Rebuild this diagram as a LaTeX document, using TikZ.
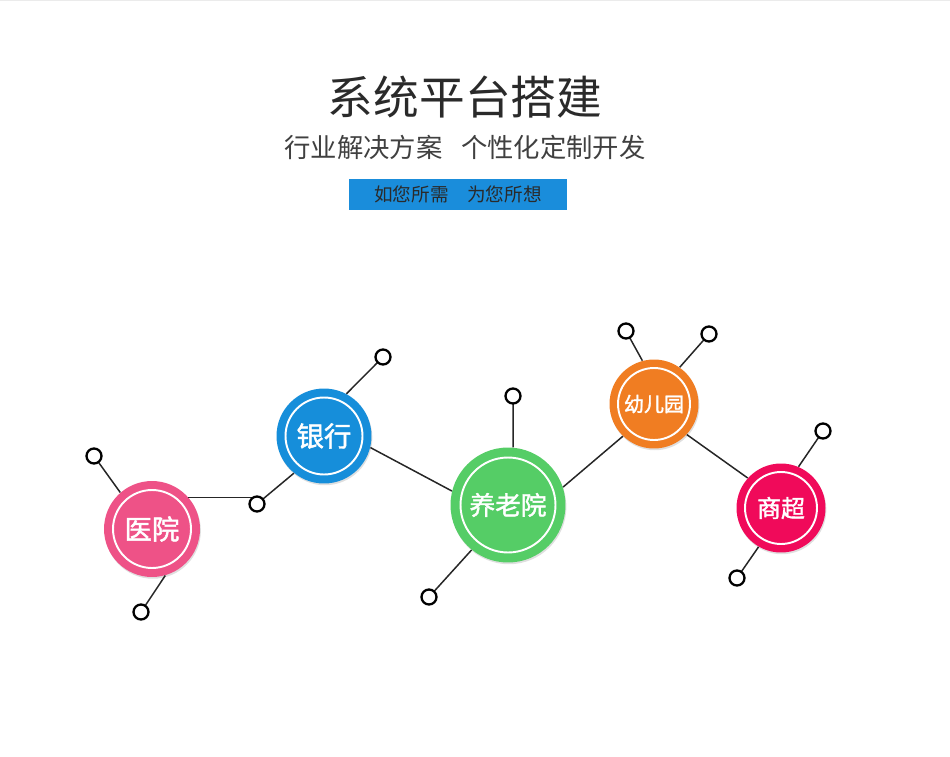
\documentclass[tikz,border=0pt]{standalone}
\usepackage{fontspec}
\setmainfont{Noto Sans CJK SC}
\newfontfamily\cjkmid[FakeBold=1.6]{Noto Sans CJK SC}
\usepackage{xcolor}
\definecolor{cPink}  {HTML}{EE5287}
\definecolor{cBlue}  {HTML}{168EDA}
\definecolor{cGreen} {HTML}{55CD66}
\definecolor{cOrange}{HTML}{F07D22}
\definecolor{cRed}   {HTML}{F00A5A}
\definecolor{cBanner}{HTML}{1A8DDB}
\definecolor{cInk}   {HTML}{2A2A2A}
\usetikzlibrary{positioning, shadows}
\tikzset{
  hub/.style  = {circle, fill=#1, draw=none, inner sep=0pt,
                 text=white,
                 drop shadow={opacity=0.25, shadow xshift=0.5pt,
                              shadow yshift=-1pt}},
  ring/.style = {circle, draw=white, line width=1.1pt, fill=none,
                 inner sep=0pt},
  pin/.style  = {circle, draw=black, line width=1.3pt, fill=white,
                 minimum size=0.3cm, inner sep=0pt},
  link/.style = {draw=black!85, line width=0.85pt},
}

\begin{document}
\begin{tikzpicture}[x=0.02cm, y=-0.02cm]
  \useasboundingbox (0,0) rectangle (950,757);
  \fill[black!8] (0,0) rectangle (950,1.5);

  %% Heading
  \node[font=\fontsize{26}{26}\selectfont, text=cInk] (title) at (465,97)
        {系统平台搭建};
  \node[font=\fontsize{15}{15}\selectfont, text=black!75,
        below=0.1cm of title] (sub)
        {行业解决方案\hspace{0.7em}个性化定制开发};
  \node[fill=cBanner, text=cInk, minimum width=4.36cm, minimum height=0.62cm,
        font=\fontsize{10.6}{11}\selectfont, inner sep=0pt] (tag) at (458,194.5)
        {如您所需\hspace{1em}为您所想};

  %% Hubs
  \node[hub=cPink,   minimum size=1.92cm, font=\cjkmid\fontsize{15.6}{16}\selectfont] (hosp)  at (152,529) {医院};
  \node[hub=cBlue,   minimum size=1.90cm, font=\cjkmid\fontsize{15.6}{16}\selectfont] (bank)  at (324,436) {银行};
  \node[hub=cGreen,  minimum size=2.30cm, font=\cjkmid\fontsize{14.6}{15}\selectfont] (elder) at (508,505) {养老院};
  \node[hub=cOrange, minimum size=1.78cm, font=\cjkmid\fontsize{11.4}{12}\selectfont] (kids)  at (654,404) {幼儿园};
  \node[hub=cRed,    minimum size=1.78cm, font=\cjkmid\fontsize{13.6}{14}\selectfont] (shop)  at (781,508) {商超};

  %% White rings
  \node[ring, minimum size=1.56cm] at (hosp)  {};
  \node[ring, minimum size=1.54cm] at (bank)  {};
  \node[ring, minimum size=1.90cm] at (elder) {};
  \node[ring, minimum size=1.44cm] at (kids)  {};
  \node[ring, minimum size=1.44cm] at (shop)  {};

  %% Pin positions
  \coordinate (p1)  at (94,456);
  \coordinate (p2)  at (141,612);
  \coordinate (p3)  at (257,504);
  \coordinate (p4)  at (383,357);
  \coordinate (p5)  at (513,396);
  \coordinate (p6)  at (429,597);
  \coordinate (p7)  at (626,331);
  \coordinate (p8)  at (709,334);
  \coordinate (p9)  at (823,431);
  \coordinate (p10) at (737,578);

  %% Links
  \draw[link] (hosp.131) -- (p1);
  \draw[link] (hosp.-74) -- (p2);
  \draw[link] (hosp.41.6) -- (hosp.41.6 -| p3);
  \draw[link] (p3) -- (bank.231);
  \draw[link] (bank.62) -- (p4);
  \draw[link] (bank.-14) -- (elder.166);
  \draw[link] (elder.85) -- (p5);
  \draw[link] (elder.-129) -- (p6);
  \draw[link] (elder.18) -- (kids.226);
  \draw[link] (kids.105) -- (p7);
  \draw[link] (kids.55) -- (p8);
  \draw[link] (kids.-43) -- (shop.138);
  \draw[link] (shop.67) -- (p9);
  \draw[link] (shop.-120) -- (p10);

  %% Pins
  \foreach \p in {p1,p2,p3,p4,p5,p6,p7,p8,p9,p10}
    \node[pin] at (\p) {};

\end{tikzpicture}
\end{document}
